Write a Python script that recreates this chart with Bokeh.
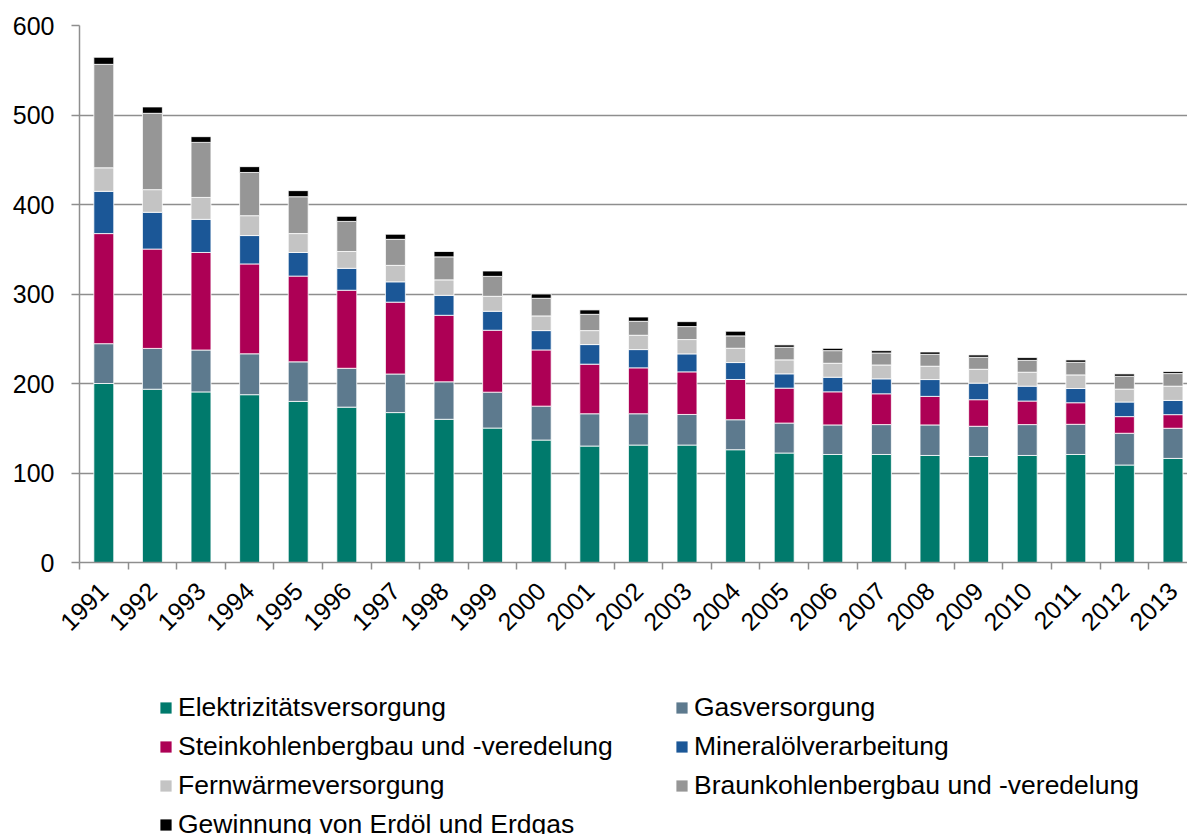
import numpy as np
from math import pi
from bokeh.plotting import figure
from bokeh.layouts import column
from bokeh.models import (ColumnDataSource, Range1d, FixedTicker, Legend, LegendItem)
from bokeh.embed import file_html
from bokeh.resources import INLINE

years = [str(y) for y in range(1991, 2014)]

elek = [200, 193.6, 190.6, 187.5, 180, 173.6, 167.5, 160, 150.2, 136.8, 130.1, 131.2,
        131.2, 126, 122.3, 120.7, 120.7, 119.6, 118.5, 119.6, 120.7, 108.9, 116.3]
gas = [44.5, 45.6, 46.8, 45.7, 44.2, 43.4, 43.1, 41.9, 40.1, 37.9, 36.1, 35,
       34.2, 33.5, 33.5, 33, 33.4, 34.1, 33.7, 34.5, 33.7, 35.5, 33.7]
stein = [123, 111, 109, 100.4, 95.8, 87.2, 80.3, 74.3, 69.2, 62.8, 55.4, 51.3,
         47.6, 45, 39, 37, 34.4, 31.9, 29.7, 26.3, 24.1, 18.6, 15.2]
mineral = [47.2, 41.1, 37, 31.7, 26.4, 24.5, 22.7, 22.3, 21.2, 21.6, 21.9, 20.4,
           20.1, 18.9, 16, 16.3, 16.7, 18.8, 18.5, 16.6, 15.9, 16.3, 15.9]
fern = [26.3, 25.3, 24.5, 22.2, 21.1, 18.8, 18.4, 17.3, 16.7, 16.4, 15.6, 16,
        16, 16, 15.6, 15.6, 15.5, 14.9, 15.5, 15.6, 15.2, 14.4, 15.9]
braun = [115.6, 85.3, 61.5, 48.3, 41.2, 33.6, 29.1, 25.7, 22.3, 19.7, 18.2, 15.6,
         14.5, 13.8, 14.1, 14.1, 13.4, 13.3, 13.4, 13.3, 14.1, 14.4, 14.1]
gew = [7.9, 7.1, 6.4, 6.5, 6.8, 5.7, 5.7, 6, 6, 4.8, 4.9, 4.8,
       5.5, 5.2, 2.6, 2.6, 2.6, 2.6, 2.6, 3, 2.6, 2.6, 2.2]

series_keys = ["elek", "gas", "stein", "mineral", "fern", "braun", "gew"]
series_labels = ["Elektrizitätsversorgung", "Gasversorgung",
                 "Steinkohlenbergbau und -veredelung", "Mineralölverarbeitung",
                 "Fernwärmeversorgung", "Braunkohlenbergbau und -veredelung",
                 "Gewinnung von Erdöl und Erdgas"]
colors = ["#007A6C", "#5D7A8E", "#AD0055", "#1B5797", "#C4C4C4", "#969696", "#000000"]

x = np.arange(1, len(years) + 1)
source = ColumnDataSource(dict(x=x, elek=elek, gas=gas, stein=stein, mineral=mineral,
                               fern=fern, braun=braun, gew=gew))

FONT = "Liberation Sans"
GRID = "#8E8E8E"

p = figure(width=1187, height=680, output_backend="svg", toolbar_location=None,
           x_range=Range1d(0.5, 0.5 + 1108 / 48.6), y_range=Range1d(0, 600),
           min_border_left=79, min_border_right=0, min_border_top=25, min_border_bottom=118)
p.outline_line_color = None

renderers = p.vbar_stack(series_keys, x="x", width=0.41, source=source, color=colors,
                         line_color="white", line_width=0.8)

# y axis
p.yaxis.ticker = FixedTicker(ticks=[0, 100, 200, 300, 400, 500, 600])
p.yaxis.axis_line_color = GRID
p.yaxis.axis_line_width = 1.5
p.yaxis.major_tick_line_color = GRID
p.yaxis.major_tick_line_width = 1.5
p.yaxis.major_tick_out = 8
p.yaxis.major_tick_in = 0
p.yaxis.minor_tick_line_color = None
p.yaxis.major_label_standoff = 17
p.yaxis.major_label_text_font = FONT
p.yaxis.major_label_text_font_size = "25px"
p.yaxis.major_label_text_color = "#000000"

p.ygrid.grid_line_color = GRID
p.ygrid.grid_line_width = 1.5
p.xgrid.grid_line_color = None

# x axis: labels at category centres, tick marks at category boundaries
p.xaxis.ticker = FixedTicker(ticks=list(x), minor_ticks=[i + 0.5 for i in range(len(years) + 1)])
p.xaxis.major_label_overrides = {int(i): y for i, y in zip(x, years)}
p.xaxis.axis_line_color = GRID
p.xaxis.axis_line_width = 1.5
p.xaxis.major_tick_line_color = None
p.xaxis.major_tick_out = 0
p.xaxis.major_tick_in = 0
p.xaxis.minor_tick_line_color = GRID
p.xaxis.minor_tick_line_width = 1.5
p.xaxis.minor_tick_out = 7
p.xaxis.minor_tick_in = 0
p.xaxis.major_label_orientation = pi / 4
p.xaxis.major_label_standoff = 17
p.xaxis.major_label_text_font = FONT
p.xaxis.major_label_text_font_size = "25px"
p.xaxis.major_label_text_color = "#000000"

# legend in its own strip below the chart (its bars lie outside its visible range)
lg = figure(width=1187, height=154, output_backend="svg", toolbar_location=None,
            x_axis_location=None, y_axis_location=None, min_border=0,
            x_range=Range1d(-2, -1), y_range=Range1d(0, 1))
lg.outline_line_color = None
lg.grid.visible = False
dummy = lg.vbar_stack(series_keys, x="x", width=0.41, source=source, color=colors,
                      line_color="white", line_width=0.8)

items = [LegendItem(label=lab, renderers=[r]) for lab, r in zip(series_labels, dummy)]
legend = Legend(items=items, location=(79, -6), orientation="horizontal", ncols=2,
                label_text_font=FONT, label_text_font_size="26.5px", label_text_color="#000000",
                glyph_width=15, glyph_height=15, label_standoff=5, spacing=8,
                padding=0, margin=0, border_line_color=None, background_fill_alpha=0,
                label_width=488)
lg.add_layout(legend)

layout = column(p, lg, spacing=0)
open("out.html", "w").write(file_html(layout, INLINE))
